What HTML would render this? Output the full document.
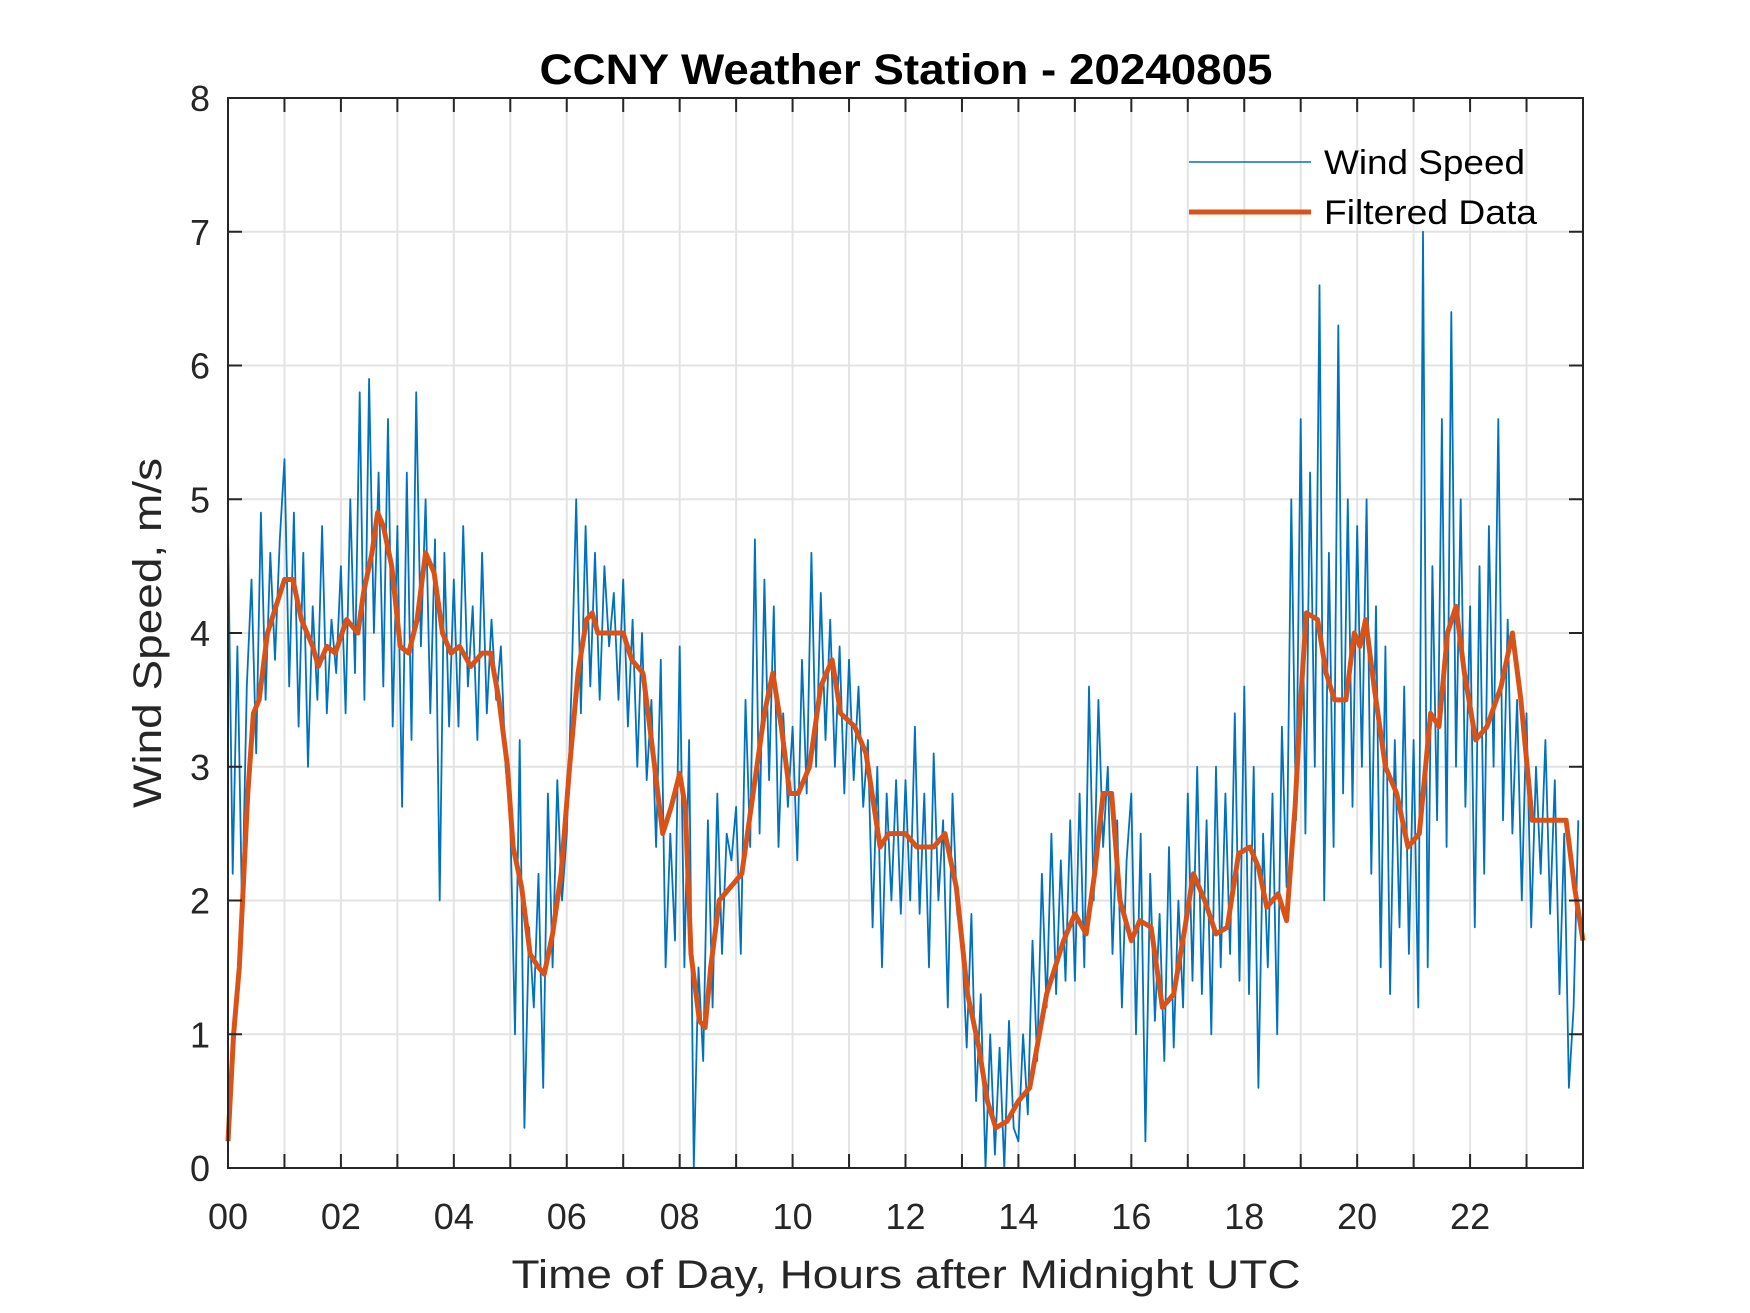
<!DOCTYPE html>
<html><head><meta charset="utf-8"><style>
html,body{margin:0;padding:0;background:#fff;}
svg{display:block;font-family:"Liberation Sans",Arial,sans-serif;}
</style></head><body>
<svg id="chart" width="1750" height="1313" viewBox="0 0 1750 1313">
<rect x="0" y="0" width="1750" height="1313" fill="#fff"/>
<g id="grid"></g>
<g id="series"></g>
<g id="axes"></g>
<text x="906" y="84" text-anchor="middle" font-weight="bold" font-size="43" textLength="733" lengthAdjust="spacingAndGlyphs" fill="#000">CCNY Weather Station - 20240805</text>
<text x="906" y="1288" text-anchor="middle" font-size="40" textLength="789" lengthAdjust="spacingAndGlyphs" fill="#262626">Time of Day, Hours after Midnight UTC</text>
<text transform="translate(161,633) rotate(-90)" text-anchor="middle" font-size="40" textLength="350" lengthAdjust="spacingAndGlyphs" fill="#262626">Wind Speed, m/s</text>
<g>
<line x1="1189" y1="162" x2="1311" y2="162" stroke="#0072BD" stroke-width="1.5"/>
<text x="1324" y="174" font-size="34" textLength="201" lengthAdjust="spacingAndGlyphs" fill="#000">Wind Speed</text>
<line x1="1189" y1="212" x2="1311" y2="212" stroke="#D95319" stroke-width="5"/>
<text x="1324" y="224" font-size="34" textLength="213" lengthAdjust="spacingAndGlyphs" fill="#000">Filtered Data</text>
</g>
</svg>
<script>
const xTicks = [0,2,4,6,8,10,12,14,16,18,20,22];
const xTickLabels = ["00","02","04","06","08","10","12","14","16","18","20","22"];
const yTicks = [0,1,2,3,4,5,6,7,8];
const rawSpeed = [
4.8,2.2,3.9,1.9,3.6,4.4,3.1,4.9,3.5,4.6,3.8,4.7,
5.3,3.6,4.9,3.3,4.6,3.0,4.2,3.5,4.8,3.4,4.1,3.7,
4.5,3.4,5.0,3.7,5.8,3.5,5.9,4.0,5.2,3.6,5.6,3.3,
4.8,2.7,5.2,3.2,5.8,3.9,5.0,3.4,4.7,2.0,4.6,3.3,
4.4,3.3,4.8,3.6,4.2,3.2,4.6,3.4,4.1,3.5,3.9,3.0,
2.6,1.0,3.2,0.3,1.8,1.2,2.2,0.6,2.8,1.5,2.9,2.0,
2.5,3.6,5.0,3.4,4.8,3.6,4.6,3.5,4.5,3.9,4.3,3.5,
4.4,3.3,4.1,3.0,4.0,2.9,3.5,2.4,3.8,1.5,2.5,1.7,
3.9,1.5,3.2,0.0,1.5,0.8,2.6,1.2,2.8,1.6,2.5,2.3,
2.7,1.6,3.5,2.4,4.7,2.5,4.4,2.9,4.2,2.4,3.4,2.7,
3.3,2.3,3.8,2.8,4.6,3.0,4.3,3.2,4.1,3.0,3.9,2.8,
3.8,2.9,3.6,2.7,3.2,1.8,3.0,1.5,2.8,2.0,2.9,1.9,
2.9,2.0,3.3,1.9,2.8,1.5,3.1,2.0,2.6,1.2,2.8,1.9,
1.7,0.9,1.9,0.5,1.3,0.0,1.0,0.1,0.9,0.0,1.1,0.3,
0.2,1.0,0.4,1.7,0.8,2.2,1.2,2.5,1.3,2.3,1.4,2.6,
1.4,2.8,1.5,3.6,2.0,3.5,2.4,3.0,1.6,2.6,1.2,2.3,
2.8,1.0,2.5,0.2,2.2,1.1,1.9,0.8,2.4,0.9,2.0,1.2,
2.8,1.4,3.0,1.3,2.6,1.0,3.0,1.5,2.8,1.6,3.4,1.4,
3.6,1.3,3.0,0.6,2.5,1.5,2.8,1.0,3.3,2.1,5.0,2.6,
5.6,2.5,5.2,3.0,6.6,2.0,4.6,2.4,6.3,2.8,5.0,2.7,
4.8,3.0,5.0,2.2,4.2,1.5,3.9,1.3,3.2,1.8,3.6,1.6,
3.2,1.2,7.0,1.5,4.5,2.6,5.6,2.4,6.4,3.0,5.0,2.7,
4.2,1.8,4.5,2.2,4.8,3.0,5.6,2.6,4.1,2.5,3.5,2.0,
3.4,1.8,3.0,2.2,3.2,1.9,2.9,1.3,2.5,0.6,1.2,2.6
];
const filtHours = [0,0.1,0.2,0.35,0.45,0.55,0.7,0.85,1.0,1.15,1.3,1.5,1.6,1.75,1.9,2.1,2.3,2.4,2.55,2.65,2.75,2.9,3.05,3.2,3.35,3.5,3.65,3.8,3.95,4.1,4.3,4.5,4.65,4.8,4.95,5.05,5.2,5.35,5.5,5.6,5.75,5.9,6.05,6.2,6.35,6.45,6.55,6.8,7.0,7.15,7.35,7.5,7.7,7.85,8.0,8.1,8.2,8.35,8.45,8.55,8.7,8.9,9.1,9.3,9.5,9.65,9.8,9.95,10.1,10.3,10.5,10.7,10.85,11.1,11.3,11.55,11.7,12.0,12.2,12.5,12.7,12.9,13.1,13.3,13.45,13.6,13.8,14.0,14.2,14.5,14.8,15.0,15.2,15.35,15.5,15.65,15.8,16.0,16.15,16.35,16.55,16.75,16.95,17.1,17.3,17.5,17.7,17.9,18.1,18.25,18.4,18.6,18.75,18.9,19.0,19.1,19.3,19.45,19.6,19.8,19.95,20.05,20.15,20.3,20.5,20.7,20.9,21.1,21.3,21.45,21.6,21.75,21.9,22.1,22.3,22.55,22.75,22.9,23.1,23.3,23.5,23.7,23.85,24];
const filtSpeed = [0.2,1.0,1.5,2.8,3.4,3.5,4.0,4.2,4.4,4.4,4.1,3.9,3.75,3.9,3.85,4.1,4.0,4.3,4.6,4.9,4.8,4.5,3.9,3.85,4.1,4.6,4.45,4.0,3.85,3.9,3.75,3.85,3.85,3.5,3.0,2.4,2.1,1.6,1.5,1.45,1.75,2.2,3.0,3.7,4.1,4.15,4.0,4.0,4.0,3.8,3.7,3.2,2.5,2.7,2.95,2.7,1.6,1.1,1.05,1.5,2.0,2.1,2.2,2.8,3.4,3.7,3.3,2.8,2.8,3.0,3.6,3.8,3.4,3.3,3.1,2.4,2.5,2.5,2.4,2.4,2.5,2.1,1.3,0.9,0.5,0.3,0.35,0.5,0.6,1.3,1.7,1.9,1.75,2.2,2.8,2.8,2.0,1.7,1.85,1.8,1.2,1.3,1.8,2.2,2.0,1.75,1.8,2.35,2.4,2.25,1.95,2.05,1.85,2.7,3.5,4.15,4.1,3.7,3.5,3.5,4.0,3.9,4.1,3.6,3.0,2.8,2.4,2.5,3.4,3.3,4.0,4.2,3.7,3.2,3.3,3.6,4.0,3.5,2.6,2.6,2.6,2.6,2.1,1.7];

const X0=228, X1=1583, Y0=1168, Y1=98, XMAX=24, YMAX=8;
const xs = h => X0 + (X1-X0)*h/XMAX;
const ys = v => Y0 - (Y0-Y1)*v/YMAX;
const NS="http://www.w3.org/2000/svg";
function mk(tag, attrs, parent){const e=document.createElementNS(NS,tag);for(const k in attrs)e.setAttribute(k,attrs[k]);parent.appendChild(e);return e;}
const grid=document.getElementById('grid'), axes=document.getElementById('axes'), series=document.getElementById('series');

for(let h=1;h<XMAX;h++){
  const g=mk('line',{x1:xs(h),x2:xs(h),y1:Y1,y2:Y0,stroke:'#e3e3e3','stroke-width':2},grid);
  
  
  const t1=mk('line',{x1:xs(h),x2:xs(h),y1:Y0,y2:Y0-14,stroke:'#262626','stroke-width':2},axes);
  
  
  const t2=mk('line',{x1:xs(h),x2:xs(h),y1:Y1,y2:Y1+14,stroke:'#262626','stroke-width':2},axes);
  
  
}
yTicks.forEach(v=>{
  if(v>0&&v<YMAX){
    const g=mk('line',{x1:X0,x2:X1,y1:ys(v),y2:ys(v),stroke:'#e3e3e3','stroke-width':2},grid);
    
    
    const t1=mk('line',{x1:X0,x2:X0+14,y1:ys(v),y2:ys(v),stroke:'#262626','stroke-width':2},axes);
    
    
    const t2=mk('line',{x1:X1,x2:X1-14,y1:ys(v),y2:ys(v),stroke:'#262626','stroke-width':2},axes);
    
    
  }
  const l=mk('text',{x:210,y:ys(v)+13,'text-anchor':'end','font-size':36,fill:'#262626'},axes);
  l.textContent=String(v);
  
  
});
xTicks.forEach((h,i)=>{
  const l=mk('text',{x:xs(h),y:1229,'text-anchor':'middle','font-size':36,fill:'#262626'},axes);
  l.textContent=xTickLabels[i];
  
  
});
const frame=mk('rect',{x:X0,y:Y1,width:X1-X0,height:Y0-Y1,fill:'none',stroke:'#262626','stroke-width':2},axes);



const rawPts=rawSpeed.map((v,i)=>xs(i*XMAX/rawSpeed.length).toFixed(1)+','+ys(v).toFixed(1)).join(' ');
const raw=mk('polyline',{points:rawPts,fill:'none',stroke:'#0072BD','stroke-width':1.8,'stroke-linejoin':'round'},series);


const fPts=filtSpeed.map((v,i)=>xs(filtHours[i]).toFixed(1)+','+ys(v).toFixed(1)).join(' ');
const filt=mk('polyline',{points:fPts,fill:'none',stroke:'#D95319','stroke-width':5,'stroke-linejoin':'round'},series);


</script>
</body></html>
